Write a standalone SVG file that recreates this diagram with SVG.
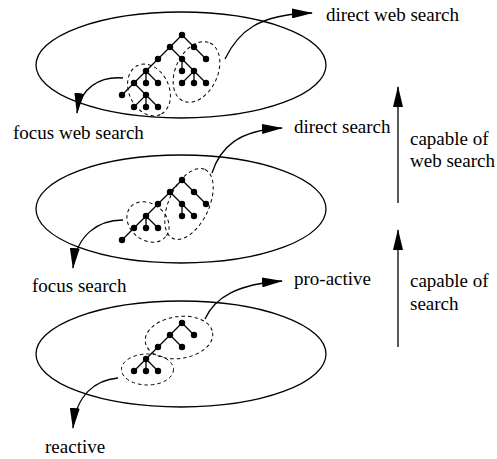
<svg xmlns="http://www.w3.org/2000/svg" width="497" height="459" viewBox="0 0 497 459">
<style>
.plane{fill:none;stroke:#000;stroke-width:1.3}
.edge{stroke:#000;stroke-width:1.3;fill:none}
.dot{fill:#000}
.dash{fill:none;stroke:#000;stroke-width:1;stroke-dasharray:3.5,3}
.conn{fill:none;stroke:#000;stroke-width:1.3}
text{font-family:"Liberation Serif","Times New Roman",serif;font-size:19px;fill:#000}
</style>
<defs>
<marker id="ah" markerUnits="userSpaceOnUse" markerWidth="21" markerHeight="10" viewBox="0 0 21 10" refX="20" refY="5" orient="auto">
<path d="M0,0 L21,5 L0,10 z" fill="#000"/>
</marker>
</defs>

<g id="level-top">
<ellipse class="plane" cx="181" cy="65" rx="145" ry="53"/>
<g class="edge">
<path d="M182,35 L146,71 L122,95 M134,83 L146,95 L134,107 M146,95 L146,107 M146,95 L158,107 M146,71 L146,83 M146,71 L158,83 M182,35 L206,59 M170,47 L182,59 L182,71 M182,59 L194,71 L182,83 M194,71 L194,83 M194,71 L206,83"/>
</g>
<g class="dot">
<circle cx="182" cy="35" r="3.2"/><circle cx="170" cy="47" r="3.2"/><circle cx="194" cy="47" r="3.2"/>
<circle cx="158" cy="59" r="3.2"/><circle cx="182" cy="59" r="3.2"/><circle cx="206" cy="59" r="3.2"/>
<circle cx="146" cy="71" r="3.2"/><circle cx="182" cy="71" r="3.2"/><circle cx="194" cy="71" r="3.2"/>
<circle cx="134" cy="83" r="3.2"/><circle cx="146" cy="83" r="3.2"/><circle cx="158" cy="83" r="3.2"/>
<circle cx="182" cy="83" r="3.2"/><circle cx="194" cy="83" r="3.2"/><circle cx="206" cy="83" r="3.2"/>
<circle cx="122" cy="95" r="3.2"/><circle cx="146" cy="95" r="3.2"/>
<circle cx="134" cy="107" r="3.2"/><circle cx="146" cy="107" r="3.2"/><circle cx="158" cy="107" r="3.2"/>
</g>
<ellipse class="dash" cx="149" cy="90" rx="27" ry="20" transform="rotate(65 149 90)"/>
<ellipse class="dash" cx="196.5" cy="72" rx="32" ry="21" transform="rotate(-65 196.5 72)"/>
</g>

<g id="level-mid">
<ellipse class="plane" cx="181" cy="209" rx="145" ry="54"/>
<g class="edge">
<path d="M182,180 L122,240 M146,216 L146,228 M146,216 L158,228 M182,180 L206,204 M170,192 L182,204 L182,216 M182,204 L194,216"/>
</g>
<g class="dot">
<circle cx="182" cy="180" r="3.2"/><circle cx="170" cy="192" r="3.2"/><circle cx="194" cy="192" r="3.2"/>
<circle cx="158" cy="204" r="3.2"/><circle cx="182" cy="204" r="3.2"/><circle cx="206" cy="204" r="3.2"/>
<circle cx="146" cy="216" r="3.2"/><circle cx="182" cy="216" r="3.2"/><circle cx="194" cy="216" r="3.2"/>
<circle cx="134" cy="228" r="3.2"/><circle cx="146" cy="228" r="3.2"/><circle cx="158" cy="228" r="3.2"/>
<circle cx="122" cy="240" r="3.2"/>
</g>
<ellipse class="dash" cx="148" cy="222" rx="23" ry="18" transform="rotate(40 148 222)"/>
<ellipse class="dash" cx="189" cy="204" rx="38" ry="20" transform="rotate(-65 189 204)"/>
</g>

<g id="level-bottom">
<ellipse class="plane" cx="181" cy="354" rx="145" ry="53"/>
<g class="edge">
<path d="M182,323 L134,371 M146,359 L146,371 M146,359 L158,371 M182,323 L194,335 M170,335 L182,347"/>
</g>
<g class="dot">
<circle cx="182" cy="323" r="3.2"/><circle cx="170" cy="335" r="3.2"/><circle cx="194" cy="335" r="3.2"/>
<circle cx="158" cy="347" r="3.2"/><circle cx="182" cy="347" r="3.2"/>
<circle cx="146" cy="359" r="3.2"/>
<circle cx="134" cy="371" r="3.2"/><circle cx="146" cy="371" r="3.2"/><circle cx="158" cy="371" r="3.2"/>
</g>
<ellipse class="dash" cx="179" cy="337.5" rx="34" ry="21" transform="rotate(-8 179 337.5)"/>
<ellipse class="dash" cx="147.5" cy="369.5" rx="26" ry="15.5"/>
</g>

<g id="connectors">
<path class="conn" d="M225,59 C238,32 258,14 312,13" marker-end="url(#ah)"/>
<path class="conn" d="M123,78 C100,76 80,88 77,113" marker-end="url(#ah)"/>
<path class="conn" d="M212,173 C220,148 238,130 282,128" marker-end="url(#ah)"/>
<path class="conn" d="M123,220 C98,220 76,235 73,268" marker-end="url(#ah)"/>
<path class="conn" d="M205,319 C215,297 238,284 282,281" marker-end="url(#ah)"/>
<path class="conn" d="M118,378 C95,380 76,395 73,428" marker-end="url(#ah)"/>
<path class="conn" d="M398,203 L398,87" marker-end="url(#ah)"/>
<path class="conn" d="M398,347 L398,230" marker-end="url(#ah)"/>
</g>

<g id="label-direct-web-search"><text x="326" y="21">direct web search</text></g>
<g id="label-focus-web-search"><text x="13" y="139">focus web search</text></g>
<g id="label-direct-search"><text x="294" y="133">direct search</text></g>
<g id="label-focus-search"><text x="32" y="292">focus search</text></g>
<g id="label-pro-active"><text x="294" y="285">pro-active</text></g>
<g id="label-reactive"><text x="45" y="453">reactive</text></g>
<g id="label-capable-web"><text x="410" y="145">capable of</text><text x="410" y="167">web search</text></g>
<g id="label-capable-search"><text x="410" y="287">capable of</text><text x="410" y="310">search</text></g>
</svg>
